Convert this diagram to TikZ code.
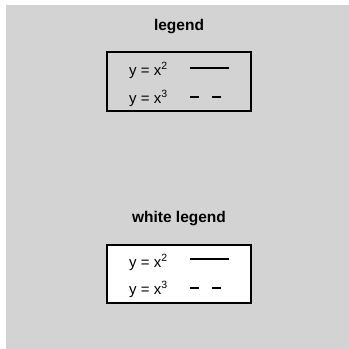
\documentclass[tikz,border=0pt]{standalone}
\usepackage{fontspec}
\setmainfont{Liberation Sans}
\begin{document}
\begin{tikzpicture}[x=1pt,y=-1pt,
  titletext/.style={font=\fontsize{15.5}{18}\selectfont\bfseries, anchor=base, inner sep=0pt},
  entrytext/.style={font=\fontsize{15}{18}\selectfont, anchor=base west, inner sep=0pt},
  legendbox/.style={draw=black, line width=2pt},
  sampleline/.style={draw=black, line width=2pt},
  dashsample/.style={draw=black, line width=2pt, dash pattern=on 9pt off 13pt}]
\useasboundingbox (0,0) rectangle (349,349);
\fill[fill={rgb,255:red,211;green,211;blue,211}] (6,5) rectangle (349,349);
% first legend
\node[titletext] (t1) at (179,30) {legend};
\draw[legendbox] (107,52) rectangle (251,111);
\node[entrytext] (a1) at (129,75) {y = x\textsuperscript{2}};
\node[entrytext] (a2) at (129,103) {y = x\textsuperscript{3}};
\coordinate (a1s) at (190,68); \coordinate (a1e) at (229,68);
\coordinate (a2s) at (190,97); \coordinate (a2e) at (221,97);
\draw[sampleline] (a1s) -- (a1e);
\draw[dashsample] (a2s) -- (a2e);
% white legend
\node[titletext] (t2) at (179,222) {white legend};
\draw[legendbox, fill=white] (107,245) rectangle (251,303);
\node[entrytext] (b1) at (129,267) {y = x\textsuperscript{2}};
\node[entrytext] (b2) at (129,294) {y = x\textsuperscript{3}};
\coordinate (b1s) at (190,259); \coordinate (b1e) at (229,259);
\coordinate (b2s) at (190,288); \coordinate (b2e) at (221,288);
\draw[sampleline] (b1s) -- (b1e);
\draw[dashsample] (b2s) -- (b2e);
\end{tikzpicture}
\end{document}
